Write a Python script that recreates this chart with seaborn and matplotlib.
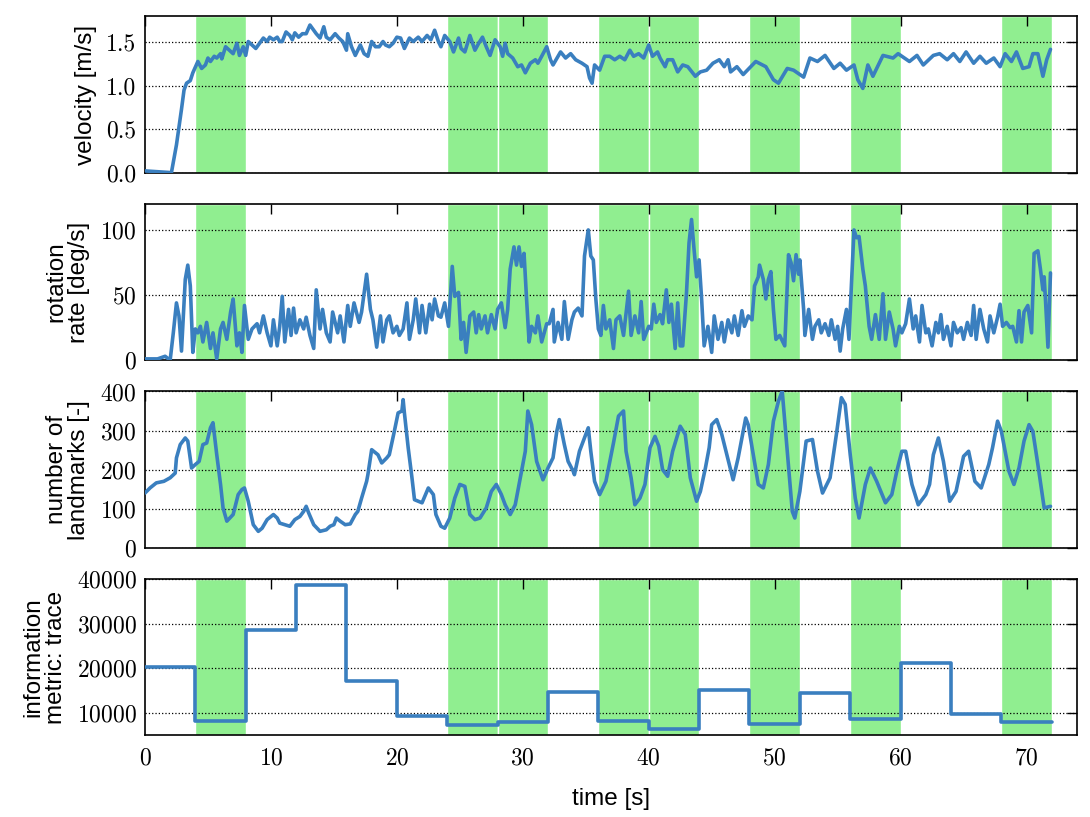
import numpy as np
import pandas as pd
import seaborn as sns
import matplotlib.pyplot as plt

# --- data ---
green_spans = [(4, 8), (24, 28), (28, 32), (36, 40), (40, 44), (48, 52), (56, 60), (68, 72)]

vel_t = [0, 0.5, 1.0, 1.5, 2.1, 2.5, 2.9, 3.1, 3.3, 3.6,
         3.8, 4.2, 4.5, 4.8, 5.0, 5.2, 5.5, 5.7, 6.0, 6.1,
         6.4, 6.7, 7.0, 7.3, 7.5, 7.8, 8.0, 8.2, 8.5, 8.8,
         9.1, 9.4, 9.7, 9.9, 10.2, 10.5, 10.7, 10.9, 11.2, 11.5,
         11.7, 11.9, 12.2, 12.5, 12.8, 13.1, 13.4, 13.6, 13.9, 14.2,
         14.4, 14.7, 15.1, 15.4, 15.7, 16.0, 16.1, 16.4, 16.7, 17.1,
         17.4, 17.7, 18.0, 18.3, 18.6, 18.9, 19.1, 19.4, 19.7, 20.0,
         20.3, 20.6, 21.0, 21.3, 21.7, 22.0, 22.4, 22.7, 23.0, 23.3,
         23.5, 23.8, 24.2, 24.5, 24.9, 25.1, 25.4, 25.8, 26.2, 26.5,
         26.8, 27.1, 27.4, 27.8, 28.2, 28.4, 28.6, 28.8, 29.2, 29.6,
         29.9, 30.2, 30.6, 31.0, 31.2, 31.5, 31.9, 32.2, 32.4, 33.0,
         33.4, 33.8, 34.2, 34.7, 35.1, 35.3, 35.5, 35.7, 36.1, 36.5,
         36.9, 37.3, 37.7, 38.1, 38.5, 38.8, 39.2, 39.6, 40.0, 40.3,
         40.7, 40.9, 41.3, 41.5, 41.9, 42.3, 42.7, 43.1, 43.7, 44.1,
         44.6, 45.1, 45.6, 46.0, 46.3, 46.5, 47.0, 47.5, 48.5, 49.3,
         49.9, 50.3, 51.0, 51.5, 52.3, 52.8, 53.4, 54.0, 54.7, 55.2,
         55.7, 56.3, 56.6, 57.0, 57.4, 57.8, 58.6, 59.4, 59.8, 60.7,
         61.3, 61.8, 62.6, 63.1, 63.7, 64.2, 64.7, 65.2, 65.8, 66.3,
         66.8, 67.4, 67.9, 68.3, 68.8, 69.2, 69.7, 70.2, 70.5, 70.9,
         71.3, 71.6, 71.9]
vel_v = [0.02, 0.015, 0.01, 0.005, 0.0, 0.32, 0.73, 0.95, 1.03, 1.06,
         1.15, 1.28, 1.20, 1.24, 1.32, 1.28, 1.34, 1.32, 1.37, 1.31,
         1.45, 1.41, 1.37, 1.49, 1.35, 1.45, 1.35, 1.51, 1.47, 1.43,
         1.49, 1.55, 1.51, 1.56, 1.53, 1.56, 1.51, 1.51, 1.62, 1.58,
         1.53, 1.61, 1.56, 1.60, 1.60, 1.70, 1.64, 1.60, 1.55, 1.68,
         1.56, 1.53, 1.60, 1.55, 1.51, 1.41, 1.60, 1.45, 1.35, 1.47,
         1.37, 1.34, 1.51, 1.45, 1.45, 1.51, 1.47, 1.45, 1.49, 1.56,
         1.55, 1.43, 1.55, 1.51, 1.56, 1.51, 1.58, 1.53, 1.64, 1.51,
         1.45, 1.58, 1.51, 1.39, 1.55, 1.43, 1.39, 1.58, 1.41, 1.49,
         1.56, 1.45, 1.35, 1.53, 1.45, 1.34, 1.49, 1.37, 1.32, 1.22,
         1.24, 1.15, 1.26, 1.30, 1.26, 1.34, 1.45, 1.30, 1.24, 1.39,
         1.32, 1.37, 1.30, 1.26, 1.22, 1.09, 1.03, 1.24, 1.18, 1.34,
         1.34, 1.30, 1.34, 1.30, 1.41, 1.34, 1.37, 1.32, 1.47, 1.34,
         1.39, 1.32, 1.22, 1.30, 1.30, 1.16, 1.24, 1.22, 1.11, 1.16,
         1.18, 1.26, 1.30, 1.22, 1.30, 1.16, 1.22, 1.13, 1.28, 1.22,
         1.07, 1.03, 1.20, 1.18, 1.10, 1.32, 1.28, 1.35, 1.20, 1.26,
         1.18, 1.24, 1.07, 0.97, 1.24, 1.11, 1.35, 1.32, 1.37, 1.28,
         1.35, 1.24, 1.35, 1.37, 1.30, 1.37, 1.28, 1.39, 1.26, 1.34,
         1.26, 1.32, 1.22, 1.37, 1.28, 1.39, 1.20, 1.22, 1.37, 1.37,
         1.11, 1.30, 1.42]

rot_t = [0, 0.5, 1.0, 1.6, 2.0, 2.25, 2.5, 2.7, 2.9, 3.2,
         3.4, 3.6, 3.8, 4.0, 4.2, 4.4, 4.6, 4.9, 5.2, 5.4,
         5.7, 6.0, 6.2, 6.5, 6.8, 7.0, 7.3, 7.5, 7.7, 7.9,
         8.2, 8.5, 8.9, 9.1, 9.4, 9.7, 10.0, 10.2, 10.5, 10.7,
         10.9, 11.1, 11.4, 11.6, 11.8, 12.0, 12.3, 12.6, 12.8, 13.1,
         13.4, 13.6, 13.9, 14.1, 14.4, 14.7, 14.9, 15.3, 15.5, 15.8,
         16.1, 16.3, 16.6, 17.0, 17.2, 17.6, 17.9, 18.1, 18.4, 18.7,
         18.9, 19.2, 19.4, 19.7, 20.0, 20.2, 20.5, 20.8, 21.0, 21.3,
         21.5, 21.8, 22.0, 22.3, 22.6, 22.8, 23.0, 23.3, 23.5, 23.8,
         24.1, 24.4, 24.6, 24.9, 25.1, 25.3, 25.5, 25.8, 26.1, 26.3,
         26.5, 26.7, 27.0, 27.2, 27.5, 27.8, 28.0, 28.3, 28.6, 28.8,
         29.0, 29.3, 29.5, 29.7, 29.9, 30.1, 30.3, 30.5, 30.7, 31.0,
         31.2, 31.5, 31.9, 32.1, 32.4, 32.5, 32.8, 33.1, 33.3, 33.6,
         33.9, 34.1, 34.4, 34.7, 34.9, 35.2, 35.4, 35.6, 35.8, 36.0,
         36.2, 36.4, 36.6, 36.9, 37.2, 37.4, 37.7, 38.0, 38.4, 38.6,
         38.9, 39.2, 39.4, 39.6, 40.0, 40.2, 40.4, 40.6, 40.9, 41.1,
         41.4, 41.6, 41.8, 42.1, 42.3, 42.5, 42.7, 43.0, 43.2, 43.4,
         43.6, 43.8, 44.0, 44.2, 44.4, 44.7, 45.0, 45.2, 45.5, 45.8,
         46.0, 46.3, 46.6, 46.8, 47.1, 47.4, 47.6, 47.9, 48.2, 48.4,
         48.7, 48.8, 49.1, 49.3, 49.5, 49.7, 49.9, 50.1, 50.4, 50.8,
         51.1, 51.3, 51.5, 51.7, 51.9, 52.0, 52.3, 52.4, 52.7, 53.0,
         53.2, 53.5, 53.7, 54.0, 54.3, 54.5, 54.8, 55.0, 55.2, 55.4,
         55.7, 55.9, 56.1, 56.3, 56.5, 56.7, 57.0, 57.2, 57.5, 57.7,
         58.0, 58.3, 58.6, 58.8, 59.1, 59.4, 59.6, 59.9, 60.1, 60.4,
         60.7, 61.0, 61.2, 61.5, 61.7, 62.0, 62.2, 62.5, 62.8, 63.0,
         63.2, 63.4, 63.7, 64.0, 64.2, 64.5, 64.8, 65.0, 65.3, 65.6,
         65.8, 66.0, 66.3, 66.6, 66.9, 67.1, 67.4, 67.7, 67.9, 68.1,
         68.4, 68.7, 68.9, 69.2, 69.4, 69.6, 69.8, 70.1, 70.4, 70.6,
         70.9, 71.1, 71.3, 71.4, 71.5, 71.7, 71.9]
rot_v = [1, 1, 1, 3, 0, 21, 44, 34, 7, 62,
         73, 57, 6, 24, 21, 26, 14, 29, 9, 21,
         1, 24, 29, 16, 37, 47, 11, 21, 6, 42,
         16, 24, 28, 21, 34, 21, 11, 31, 11, 26,
         49, 14, 39, 19, 40, 21, 31, 24, 33, 19,
         9, 54, 24, 39, 21, 14, 37, 21, 34, 14,
         42, 26, 44, 29, 37, 66, 39, 31, 10, 34,
         14, 31, 34, 21, 26, 19, 24, 44, 16, 31,
         47, 21, 42, 21, 43, 31, 47, 34, 33, 44,
         26, 72, 49, 52, 16, 29, 6, 34, 37, 21,
         35, 24, 34, 21, 35, 24, 39, 44, 25, 39,
         70, 87, 73, 87, 72, 82, 47, 14, 26, 21,
         34, 14, 28, 28, 39, 14, 29, 16, 45, 16,
         31, 37, 40, 34, 80, 100, 80, 77, 47, 24,
         19, 42, 24, 31, 9, 31, 34, 19, 53, 19,
         34, 21, 45, 16, 26, 24, 43, 29, 35, 28,
         54, 29, 43, 9, 44, 11, 11, 52, 90, 108,
         85, 64, 77, 47, 11, 26, 6, 34, 16, 29,
         14, 31, 21, 34, 19, 38, 26, 34, 31, 57,
         64, 73, 62, 47, 62, 68, 39, 16, 19, 11,
         81, 75, 61, 81, 66, 77, 39, 19, 39, 16,
         26, 31, 21, 28, 19, 31, 16, 26, 7, 24,
         39, 16, 59, 100, 94, 95, 70, 57, 26, 16,
         35, 16, 51, 16, 37, 24, 11, 26, 21, 28,
         47, 24, 34, 14, 42, 21, 24, 11, 29, 21,
         35, 16, 26, 11, 29, 21, 25, 16, 29, 19,
         42, 16, 39, 24, 14, 34, 21, 33, 43, 26,
         29, 25, 26, 14, 38, 14, 37, 42, 21, 82,
         84, 70, 54, 64, 47, 10, 67]

lm_t = [0, 0.4, 0.9, 1.5, 2.0, 2.4, 2.5, 2.8, 3.2, 3.4,
        3.7, 4.0, 4.3, 4.6, 4.9, 5.2, 5.4, 5.7, 6.0, 6.2,
        6.5, 7.0, 7.4, 7.7, 7.9, 8.2, 8.6, 9.0, 9.3, 9.7,
        10.2, 10.5, 10.7, 11.5, 11.9, 12.3, 12.6, 12.8, 13.0, 13.4,
        13.9, 14.4, 14.7, 15.0, 15.2, 15.5, 15.9, 16.3, 16.7, 16.9,
        17.2, 17.6, 17.7, 18.0, 18.3, 18.5, 18.8, 19.2, 19.4, 19.8,
        20.1, 20.4, 20.5, 20.6, 20.9, 21.2, 21.4, 22.0, 22.5, 22.9,
        23.1, 23.5, 23.8, 24.2, 24.6, 25.0, 25.4, 25.8, 26.2, 26.6,
        27.1, 27.5, 27.9, 28.3, 28.6, 29.0, 29.4, 29.8, 30.2, 30.4,
        30.7, 31.1, 31.6, 32.0, 32.4, 32.7, 32.9, 33.3, 33.6, 34.0,
        34.1, 34.5, 35.2, 35.4, 35.7, 36.1, 36.6, 37.2, 37.6, 38.0,
        38.2, 38.6, 38.9, 39.3, 39.7, 40.1, 40.5, 40.8, 41.1, 41.5,
        41.9, 42.5, 42.9, 43.3, 43.8, 44.1, 44.5, 44.8, 45.0, 45.4,
        45.8, 46.2, 46.7, 47.1, 47.7, 47.9, 48.3, 48.7, 49.1, 49.5,
        49.9, 50.3, 50.6, 51.0, 51.4, 51.6, 52.0, 52.5, 53.0, 53.4,
        53.8, 54.4, 54.9, 55.3, 55.6, 56.0, 56.4, 56.7, 57.2, 57.6,
        58.1, 58.8, 59.3, 59.7, 60.1, 60.4, 60.9, 61.4, 62.0, 62.3,
        62.6, 63.0, 63.4, 63.9, 64.4, 65.0, 65.4, 65.9, 66.4, 67.0,
        67.3, 67.7, 68.0, 68.6, 69.0, 69.4, 69.8, 70.2, 70.5, 70.9,
        71.4, 71.9]
lm_v = [140, 153, 166, 170, 179, 191, 230, 264, 281, 273,
        204, 213, 221, 264, 268, 307, 320, 238, 162, 102,
        68, 85, 136, 149, 153, 119, 59, 42, 50, 72,
        85, 76, 63, 55, 72, 80, 93, 106, 89, 59,
        42, 46, 55, 59, 76, 68, 59, 61, 85, 93,
        127, 170, 187, 251, 243, 238, 217, 230, 238, 298,
        345, 350, 379, 345, 256, 179, 123, 115, 153, 136,
        85, 55, 50, 76, 127, 162, 157, 85, 72, 76,
        102, 144, 162, 136, 110, 85, 110, 179, 247, 350,
        315, 221, 174, 204, 230, 298, 328, 264, 221, 196,
        187, 247, 307, 247, 170, 136, 170, 268, 337, 350,
        247, 179, 110, 127, 162, 256, 285, 260, 200, 183,
        247, 311, 290, 179, 119, 144, 204, 256, 315, 328,
        290, 238, 174, 230, 332, 315, 238, 162, 153, 213,
        324, 375, 401, 247, 93, 76, 144, 273, 277, 196,
        140, 179, 290, 384, 367, 238, 127, 76, 162, 204,
        170, 115, 136, 196, 247, 247, 162, 110, 136, 162,
        238, 281, 221, 119, 144, 234, 247, 170, 153, 213,
        256, 324, 298, 196, 162, 204, 273, 315, 298, 213,
        102, 106]

info_t = [0, 4, 8, 12, 16, 20, 24, 28, 32, 36, 40, 44, 48, 52, 56, 60, 64, 68, 72]
info_v = [20400, 8100, 28500, 38600, 17100, 9300, 7400, 7900, 14800, 8100,
          6400, 15100, 7500, 14400, 8600, 21200, 9800, 7900, 7900]

ylabels = ["velocity [m/s]", "rotation\nrate [deg/s]", "number of\nlandmarks [-]",
           "information\nmetric: trace"]

# --- plotting ---
sns.set_style("white")
plt.rcParams['font.family'] = ['cmr10', 'DejaVu Serif']
plt.rcParams['axes.formatter.use_mathtext'] = True
plt.rcParams['mathtext.fontset'] = 'cm'

line_color = '#3a7fbf'
label_font = dict(family='Liberation Sans', size=17.5, color='black')

fig, axes = plt.subplots(4, 1, sharex=True, figsize=(10.9, 8.17), dpi=100)
fig.subplots_adjust(left=0.133, right=0.988, top=0.980, bottom=0.100, hspace=0.2)

series = [(vel_t, vel_v), (rot_t, rot_v), (lm_t, lm_v), (info_t, info_v)]
ylims = [(0, 1.8), (0, 120), (0, 400), (5000, 40000)]
yticks = [[0, 0.5, 1.0, 1.5], [0, 50, 100], [0, 100, 200, 300, 400],
          [10000, 20000, 30000, 40000]]

for i, ax in enumerate(axes):
    for a, b in green_spans:
        ax.axvspan(a, b, facecolor='#90ee90', edgecolor='white', lw=1.0, zorder=0.2)
    t, v = series[i]
    df = pd.DataFrame({'t': t, 'v': v})
    kw = dict(drawstyle='steps-post') if i == 3 else {}
    sns.lineplot(data=df, x='t', y='v', ax=ax, color=line_color, linewidth=2.6,
                 estimator=None, sort=False, zorder=3, **kw)
    ax.set_ylim(*ylims[i])
    ax.set_yticks(yticks[i])
    ax.set_xlim(0, 74)
    ax.set_xticks(range(0, 71, 10))
    ax.set_axisbelow(True)
    ax.grid(axis='y', linestyle=':', color='black', lw=0.9)
    ax.grid(axis='x', visible=False)
    ax.tick_params(direction='in', top=True, right=True, length=7, width=1,
                   labelsize=17, colors='black')
    ax.tick_params(axis='y', pad=6)
    ax.tick_params(axis='x', pad=9)
    for s in ax.spines.values():
        s.set_color('black')
        s.set_linewidth(1.2)
    ax.set_ylabel(ylabels[i], fontdict=label_font, linespacing=1.05, labelpad=7)
    ax.set_xlabel('')

axes[0].set_yticklabels(['0.0', '0.5', '1.0', '1.5'])
axes[3].set_xlabel('time [s]', fontdict=label_font, labelpad=13)

fig.savefig('out.png', dpi=100)
